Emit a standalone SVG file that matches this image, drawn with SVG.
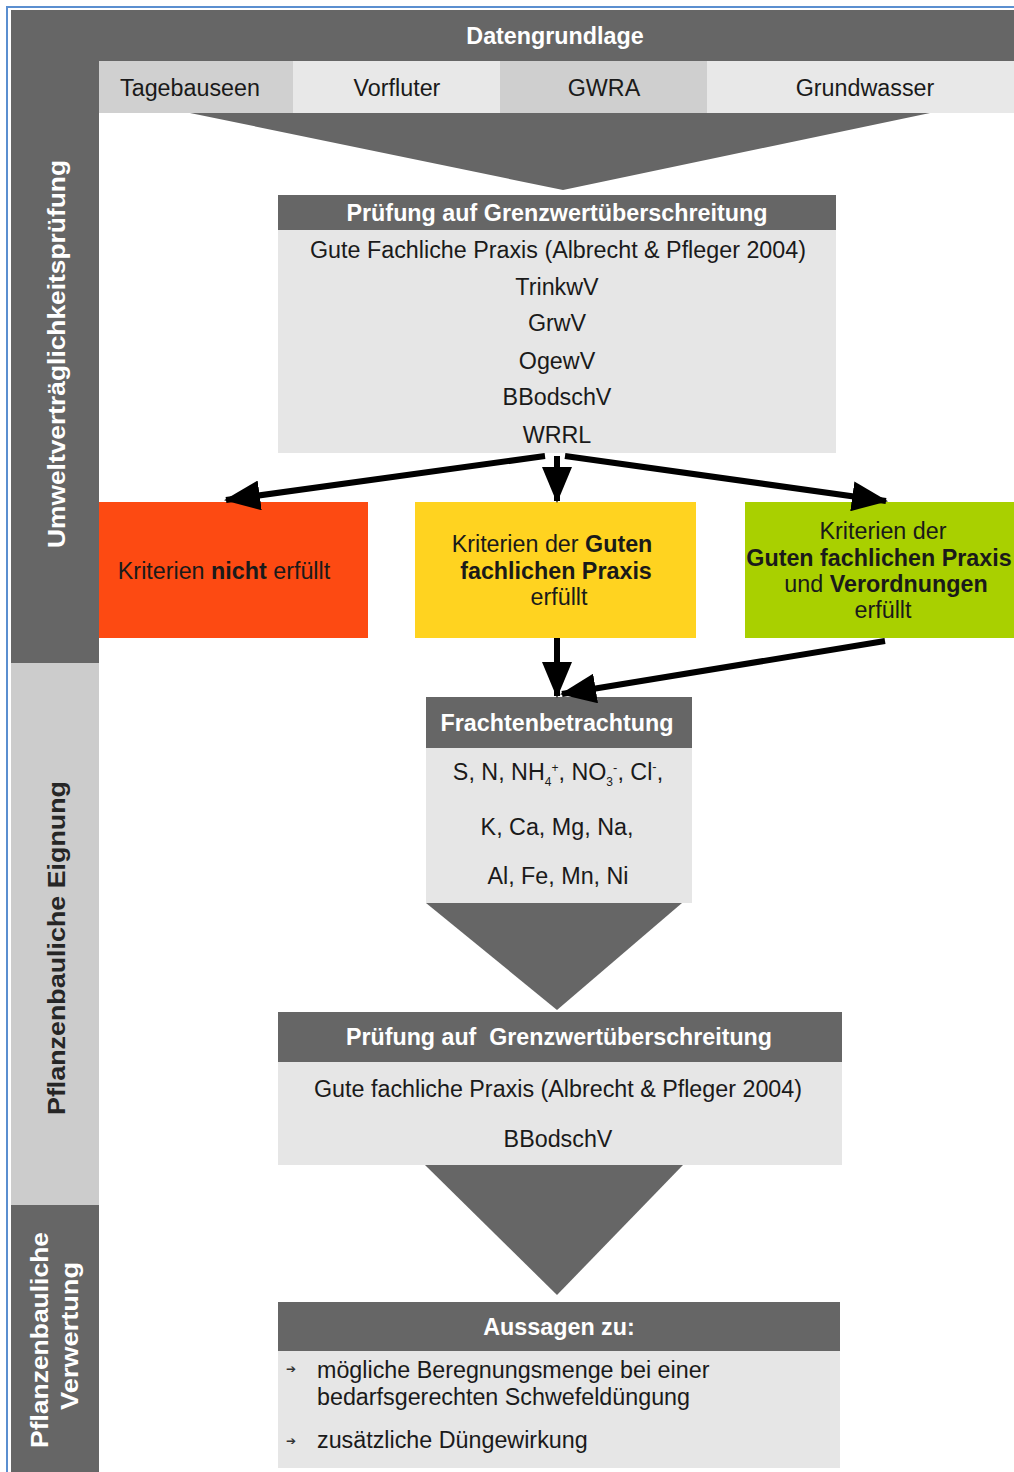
<svg xmlns="http://www.w3.org/2000/svg" width="1014" height="1472" viewBox="0 0 1014 1472">
<style>
text{font-family:"Liberation Sans",Arial,sans-serif;}
.hd{fill:#ffffff;font-weight:bold;font-size:23.3px;text-anchor:middle;}
.tx{fill:#1a1a1a;font-size:23.3px;text-anchor:middle;}
.bx{fill:#1a1a1a;font-size:23.3px;text-anchor:middle;}
.li{fill:#1a1a1a;font-size:23.3px;}
.dark{fill:#666666;}
.body{fill:#e6e6e6;}
.conn{stroke:#000;stroke-width:6;fill:none;marker-end:url(#ah);}
</style>
<defs>
<marker id="ah" markerUnits="userSpaceOnUse" markerWidth="36" markerHeight="30" refX="34" refY="15" orient="auto">
<path d="M0,0 L36,15 L0,30 z" fill="#000"/>
</marker>
</defs>
<rect width="1014" height="1472" fill="#ffffff"/>
<path d="M7,1472 V7 H1014" fill="none" stroke="#5b8fd0" stroke-width="2"/>

<g id="frame">
<rect x="11" y="10" width="1003" height="51" class="dark"/>
<rect x="11" y="10" width="88" height="653" class="dark"/>
<rect x="11" y="663" width="88" height="542" fill="#cccccc"/>
<rect x="11" y="1205" width="88" height="267" class="dark"/>
<text class="hd" x="555" y="44">Datengrundlage</text>
</g>

<g id="side-labels">
<text class="hd" transform="translate(65,354) rotate(-90)" font-size="24" textLength="388" lengthAdjust="spacingAndGlyphs">Umweltverträglichkeitsprüfung</text>
<text class="hd" style="fill:#262626" transform="translate(65,948) rotate(-90)" font-size="24" textLength="334" lengthAdjust="spacingAndGlyphs">Pflanzenbauliche Eignung</text>
<text class="hd" transform="translate(48,1340) rotate(-90)" font-size="24" textLength="216" lengthAdjust="spacingAndGlyphs">Pflanzenbauliche</text>
<text class="hd" transform="translate(78,1336) rotate(-90)" font-size="24" textLength="148" lengthAdjust="spacingAndGlyphs">Verwertung</text>
</g>

<g id="data-row">
<rect x="99" y="61" width="194" height="52" fill="#d0d0d0"/>
<rect x="293" y="61" width="207" height="52" fill="#e8e8e8"/>
<rect x="500" y="61" width="207" height="52" fill="#cfcfcf"/>
<rect x="707" y="61" width="307" height="52" fill="#e8e8e8"/>
<text class="tx" x="190" y="96">Tagebauseen</text>
<text class="tx" x="397" y="96">Vorfluter</text>
<text class="tx" x="604" y="96">GWRA</text>
<text class="tx" x="865" y="96">Grundwasser</text>
<polygon points="190,113 930,113 563,190" class="dark"/>
</g>

<g id="pruefung1">
<rect x="278" y="195" width="558" height="35" class="dark"/>
<rect x="278" y="230" width="558" height="223" class="body"/>
<text class="hd" x="557" y="221" textLength="421" lengthAdjust="spacingAndGlyphs">Prüfung auf Grenzwertüberschreitung</text>
<text class="tx" x="558" y="258" textLength="496" lengthAdjust="spacingAndGlyphs">Gute Fachliche Praxis (Albrecht &amp; Pfleger 2004)</text>
<text class="tx" x="557" y="295">TrinkwV</text>
<text class="tx" x="557" y="331">GrwV</text>
<text class="tx" x="557" y="369">OgewV</text>
<text class="tx" x="557" y="405">BBodschV</text>
<text class="tx" x="557" y="443">WRRL</text>
</g>

<g id="nicht-erfuellt">
<rect x="99" y="502" width="269" height="136" fill="#fd4a12"/>
<text class="bx" x="224" y="579">Kriterien <tspan font-weight="bold">nicht</tspan> erfüllt</text>
</g>

<g id="gute-praxis">
<rect x="415" y="502" width="281" height="136" fill="#ffd320"/>
<text class="bx" x="552" y="552">Kriterien der <tspan font-weight="bold">Guten</tspan></text>
<text class="bx" x="556" y="579" font-weight="bold">fachlichen Praxis</text>
<text class="bx" x="559" y="605">erfüllt</text>
</g>

<g id="verordnungen">
<rect x="745" y="502" width="269" height="136" fill="#a9d000"/>
<text class="bx" x="883" y="539">Kriterien der</text>
<text class="bx" x="879" y="566" font-weight="bold" font-size="21.5">Guten fachlichen Praxis</text>
<text class="bx" x="886" y="592">und <tspan font-weight="bold">Verordnungen</tspan></text>
<text class="bx" x="883" y="618">erfüllt</text>
</g>

<g id="frachten">
<rect x="426" y="697" width="266" height="51" class="dark"/>
<rect x="426" y="748" width="266" height="155" class="body"/>
<text class="hd" x="557" y="731">Frachtenbetrachtung</text>
<text class="bx" x="558" y="780" font-size="23.5">S, N, NH<tspan font-size="12" dy="6">4</tspan><tspan font-size="12" dy="-14">+</tspan><tspan dy="8">, NO</tspan><tspan font-size="12" dy="6">3</tspan><tspan font-size="13" dy="-14">-</tspan><tspan dy="8">, Cl</tspan><tspan font-size="13" dy="-9">-</tspan><tspan dy="9">,</tspan></text>
<text class="bx" x="557" y="835" font-size="24">K, Ca, Mg, Na,</text>
<text class="bx" x="558" y="884" font-size="24">Al, Fe, Mn, Ni</text>
<polygon points="426,903 682,903 557,1010" class="dark"/>
</g>

<g id="pruefung2">
<rect x="278" y="1012" width="564" height="50" class="dark"/>
<rect x="278" y="1062" width="564" height="103" class="body"/>
<text class="hd" x="559" y="1045" textLength="426" lengthAdjust="spacingAndGlyphs" xml:space="preserve">Prüfung auf  Grenzwertüberschreitung</text>
<text class="tx" x="558" y="1097" textLength="488" lengthAdjust="spacingAndGlyphs">Gute fachliche Praxis (Albrecht &amp; Pfleger 2004)</text>
<text class="tx" x="558" y="1147">BBodschV</text>
<polygon points="425,1165 683,1165 557,1295" class="dark"/>
</g>

<g id="aussagen">
<rect x="278" y="1302" width="562" height="49" class="dark"/>
<rect x="278" y="1351" width="562" height="117" class="body"/>
<text class="hd" x="559" y="1335">Aussagen zu:</text>
<text x="291" y="1373" font-size="12" fill="#333" text-anchor="middle">➔</text>
<text x="291" y="1445" font-size="12" fill="#333" text-anchor="middle">➔</text>
<text class="li" x="317" y="1378">mögliche Beregnungsmenge bei einer</text>
<text class="li" x="317" y="1405">bedarfsgerechten Schwefeldüngung</text>
<text class="li" x="317" y="1448">zusätzliche Düngewirkung</text>
</g>

<g id="connectors">
<path class="conn" d="M545,456 L226,500"/>
<path class="conn" d="M557,456 L557,501"/>
<path class="conn" d="M565,456 L886,501"/>
<path class="conn" d="M557,638 L557,696"/>
<path class="conn" d="M885,641 L562,694"/>
</g>
</svg>
